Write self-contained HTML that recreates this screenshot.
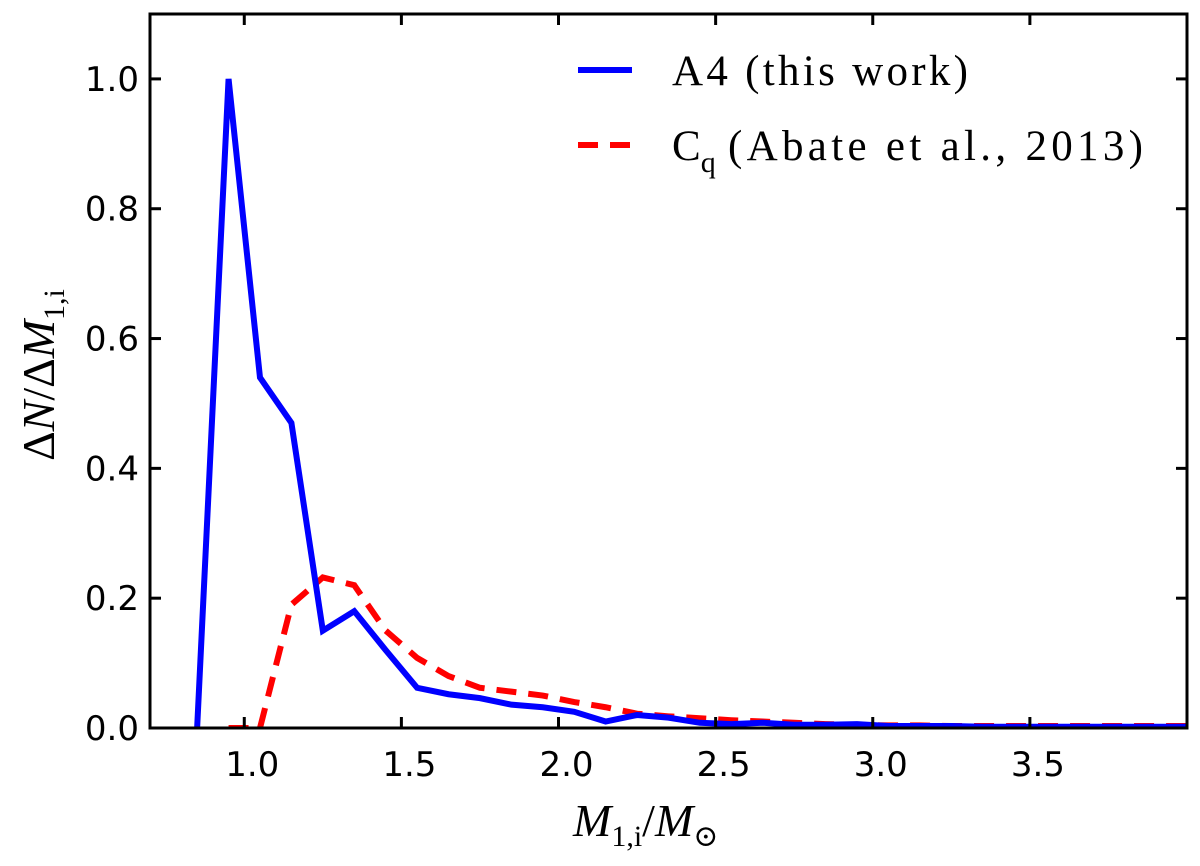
<!DOCTYPE html>
<html><head><meta charset="utf-8"><style>
body{margin:0;background:#fff}
svg text{font-family:"DejaVu Sans","Liberation Sans",sans-serif}
.serif{font-family:"Liberation Serif","DejaVu Serif",serif}
</style></head><body>
<svg id="chart" width="1200" height="861" xmlns="http://www.w3.org/2000/svg">
<g id="plot"></g>
</svg>
<script>
const binCenters=[0.85,0.95,1.05,1.15,1.25,1.35,1.45,1.55,1.65,1.75,1.85,1.95,2.05,2.15,2.25,2.35,2.45,2.55,2.65,2.75,2.85,2.95,3.05,3.15,3.25,3.35,3.45,3.55,3.65,3.75,3.85,3.95,4.05];
const blueValues=[0,1.0,0.54,0.47,0.15,0.18,0.12,0.062,0.052,0.046,0.036,0.032,0.025,0.01,0.02,0.016,0.008,0.006,0.008,0.005,0.005,0.006,0.003,0.003,0.003,0.002,0.002,0.002,0.002,0.002,0.002,0.002,0.002];
const redX=[0.95,1.05,1.15,1.25,1.35,1.45,1.55,1.65,1.75,1.85,1.95,2.05,2.15,2.25,2.35,2.45,2.55,2.65,2.75,2.85,2.95,3.05,3.15,3.25,3.35,3.45,3.55,3.65,3.75,3.85,3.95,4.05];
const redValues=[0,0,0.19,0.232,0.22,0.15,0.108,0.08,0.062,0.056,0.05,0.04,0.032,0.022,0.018,0.015,0.012,0.01,0.008,0.006,0.005,0.004,0.004,0.003,0.003,0.003,0.003,0.003,0.003,0.003,0.003,0.003];
const xTicks=[1.0,1.5,2.0,2.5,3.0,3.5];
const xTickLabels=["1.0","1.5","2.0","2.5","3.0","3.5"];
const yTicks=[0,0.2,0.4,0.6,0.8,1.0];
const yTickLabels=["0.0","0.2","0.4","0.6","0.8","1.0"];

const L=150,R=1187,T=14,B=728,x0=0.7,x1=4.0,y0=0,y1=1.1;
const sx=v=>L+(v-x0)/(x1-x0)*(R-L);
const sy=v=>B-(v-y0)/(y1-y0)*(B-T);
const NS="http://www.w3.org/2000/svg";
const g=document.getElementById('plot');
function mk(t,a){const e=document.createElementNS(NS,t);for(const k in a)e.setAttribute(k,a[k]);g.appendChild(e);return e;}

const defs=document.createElementNS(NS,'defs');
defs.innerHTML='<clipPath id="clip"><rect x="'+L+'" y="'+T+'" width="'+(R-L)+'" height="'+(B-T)+'"/></clipPath>';
document.getElementById('chart').appendChild(defs);

const red=mk('polyline',{points:redX.map((x,i)=>sx(x)+','+sy(redValues[i])).join(' '),fill:'none',stroke:'#ff0000','stroke-width':6,'stroke-dasharray':'20,12','clip-path':'url(#clip)'});


const blue=mk('polyline',{points:binCenters.map((x,i)=>sx(x)+','+sy(blueValues[i])).join(' '),fill:'none',stroke:'#0000ff','stroke-width':6,'stroke-linejoin':'miter','clip-path':'url(#clip)'});



xTicks.forEach((v,i)=>{
  const X=sx(v);
  const t1=mk('line',{x1:X,x2:X,y1:B,y2:B-11,stroke:'#000','stroke-width':3});
  
  
  const t2=mk('line',{x1:X,x2:X,y1:T,y2:T+11,stroke:'#000','stroke-width':3});
  
  
  const lb=mk('text',{x:X+8,y:776,'font-size':34,'text-anchor':'middle'});
  lb.textContent=xTickLabels[i];
  
  
});
yTicks.forEach((v,i)=>{
  const Y=sy(v);
  const t1=mk('line',{x1:L,x2:L+11,y1:Y,y2:Y,stroke:'#000','stroke-width':3});
  
  
  const t2=mk('line',{x1:R,x2:R-11,y1:Y,y2:Y,stroke:'#000','stroke-width':3});
  
  
  const lb=mk('text',{x:139,y:Y+12,'font-size':34,'text-anchor':'end'});
  lb.textContent=yTickLabels[i];
  
  
});
const fr=mk('rect',{x:L,y:T,width:R-L,height:B-T,fill:'none',stroke:'#000','stroke-width':3});


</script>
<svg style="position:absolute;left:0;top:0" width="1200" height="861" xmlns="http://www.w3.org/2000/svg">
<g>
<line x1="578" y1="70" x2="632" y2="70" stroke="#0000ff" stroke-width="6"/>
<text x="672" y="85" font-size="43" class="serif" textLength="296" lengthAdjust="spacing">A4 (this work)</text>
<line x1="578" y1="145" x2="632" y2="145" stroke="#ff0000" stroke-width="6" stroke-dasharray="20,12"/>
<text x="672" y="160" font-size="43" class="serif">C<tspan font-size="30" dy="12">q</tspan><tspan dy="-12" x="728" textLength="415" lengthAdjust="spacing">(Abate et al., 2013)</tspan></text>
</g>
<text x="573" y="836" font-size="46" class="serif"><tspan font-style="italic">M</tspan><tspan font-size="30" dy="10">1,i</tspan><tspan dy="-10">/</tspan><tspan font-style="italic">M</tspan><tspan font-size="30" dy="10">⊙</tspan></text>
<text transform="translate(54,375) rotate(-90)" font-size="46" class="serif" text-anchor="middle">Δ<tspan font-style="italic">N</tspan>/Δ<tspan font-style="italic">M</tspan><tspan font-size="30" dy="10">1,i</tspan></text>
</svg>
</body></html>
